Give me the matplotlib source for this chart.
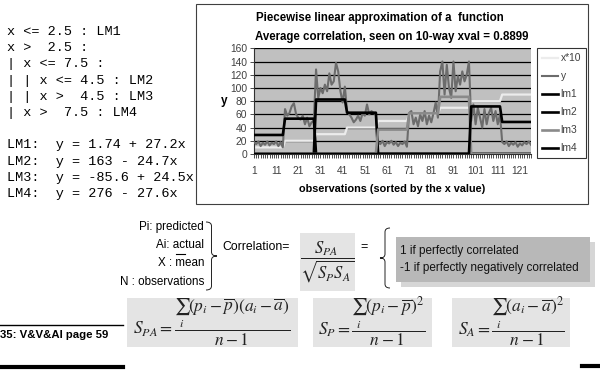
import numpy as np
import matplotlib
matplotlib.use('Agg')
import matplotlib.pyplot as plt
from matplotlib.patches import Rectangle, PathPatch
from matplotlib.path import Path
from matplotlib.lines import Line2D

plt.rcParams['font.family'] = ['Liberation Sans', 'DejaVu Sans']
plt.rcParams['mathtext.fontset'] = 'stix'

W, H = 600, 371

# ---------------- data ----------------
obs_per_group = 14
x10_levels = [10, 20, 30, 40, 50, 60, 70, 80, 90]
lm1_levels = [28.8, 53.5, 0, 0, 0, 0, 0, 0, 0]
lm2_levels = [0, 0, 82.5, 62.5, 0, 0, 0, 0, 0]
lm3_levels = [0, 0, 0, 0, 37, 61.5, 86.5, 0, 0]
lm4_levels = [0, 0, 0, 0, 0, 0, 0, 72, 48.5]
y_values = [
    18, 15, 19, 12, 17, 14, 19, 13, 17, 15, 19, 12, 18, 10,
    68, 58, 62, 72, 77, 60, 55, 52, 58, 45, 55, 42, 48, 50,
    128, 85, 100, 92, 105, 95, 122, 105, 110, 138, 125, 95, 78, 102,
    65, 60, 55, 48, 52, 58, 50, 62, 58, 75, 60, 65, 62, 60,
    18, 15, 20, 12, 18, 16, 20, 14, 18, 12, 17, 15, 19, 11,
    62, 65, 45, 55, 42, 60, 50, 65, 45, 58, 48, 62, 78, 55,
    125, 140, 90, 135, 100, 85, 140, 95, 118, 105, 125, 110, 120, 140,
    50, 75, 45, 70, 55, 40, 68, 45, 62, 70, 50, 65, 45, 60,
    18, 15, 19, 12, 17, 14, 18, 11, 16, 13, 18, 15, 19, 14,
]
xtick_labels = [1, 11, 21, 31, 41, 51, 61, 71, 81, 91, 101, 111, 121]
ytick_values = [0, 20, 40, 60, 80, 100, 120, 140, 160]
legend_labels = ['x*10', 'y', 'lm1', 'lm2', 'lm3', 'lm4']

tree_lines = ["x <= 2.5 : LM1",
              "x >  2.5 :",
              "| x <= 7.5 :",
              "| | x <= 4.5 : LM2",
              "| | x >  4.5 : LM3",
              "| x >  7.5 : LM4",
              "",
              "LM1:  y = 1.74 + 27.2x",
              "LM2:  y = 163 - 24.7x",
              "LM3:  y = -85.6 + 24.5x",
              "LM4:  y = 276 - 27.6x"]

def fx(x):
    return x / W

def fy(y):
    return 1 - y / H

fig = plt.figure(figsize=(6, 3.71), dpi=100)
fig.patch.set_facecolor('white')

# ---------------- left monospace text ----------------
for i, line in enumerate(tree_lines):
    fig.text(fx(7), fy(32 + 16.2 * i), line, family='Liberation Mono',
             fontsize=9.7, va='center', ha='left', color='black')

# ---------------- chart frame ----------------
fig.add_artist(Rectangle((fx(196), fy(204)), fx(588) - fx(196), fy(4) - fy(204),
                         transform=fig.transFigure, fill=False, edgecolor='#404040', lw=0.8))

fig.text(fx(256), fy(18), "Piecewise linear approximation of a  function",
         fontsize=8.3, fontweight='bold', va='center', ha='left')
fig.text(fx(255), fy(37), "Average correlation, seen on 10-way xval = 0.8899",
         fontsize=8.3, fontweight='bold', va='center', ha='left')

ax = fig.add_axes([fx(254), fy(154), fx(531) - fx(254), fy(48.3) - fy(154)])
ax.set_facecolor('#c0c0c0')

n = obs_per_group * len(x10_levels)
obs = np.arange(1, n + 1)
x10 = np.repeat(x10_levels, obs_per_group)
lm1 = np.repeat(lm1_levels, obs_per_group)
lm2 = np.repeat(lm2_levels, obs_per_group)
lm3 = np.repeat(lm3_levels, obs_per_group)
lm4 = np.repeat(lm4_levels, obs_per_group)

for yv in ytick_values:
    ax.axhline(yv, color='black', lw=0.9, zorder=1)

h1, = ax.plot(obs, x10, color='#ececec', lw=1.6, zorder=2)
h2, = ax.plot(obs, y_values, color='#6c6c6c', lw=1.5, zorder=3)
h3, = ax.plot(obs, lm1, color='black', lw=1.9, zorder=4)
h4, = ax.plot(obs, lm2, color='black', lw=1.9, zorder=5)
h5, = ax.plot(obs, lm3, color='#8a8a8a', lw=1.9, zorder=6)
h6, = ax.plot(obs, lm4, color='black', lw=1.9, zorder=7)

ax.set_xlim(1, n)
ax.set_ylim(0, 160)
ax.set_yticks(ytick_values)
ax.set_yticklabels([str(v) for v in ytick_values], fontsize=7.4, color='#404040')
ax.set_xticks(xtick_labels)
ax.set_xticklabels([str(v) for v in xtick_labels], fontsize=7.4, color='#404040')
ax.set_xticks(obs, minor=True)
ax.tick_params(axis='x', which='both', length=3, width=0.6, color='#303030', pad=6)
ax.tick_params(axis='y', length=3, width=0.6, color='#303030', pad=2)
for s in ['top', 'right']:
    ax.spines[s].set_visible(False)
ax.spines['left'].set_color('#303030')
ax.spines['bottom'].set_color('#303030')
ax.spines['left'].set_linewidth(0.8)
ax.spines['bottom'].set_linewidth(0.8)

fig.text(fx(224), fy(101), "y", fontsize=8.5, fontweight='bold', va='center', ha='center')
fig.text(fx(392), fy(189), "observations (sorted by the x value)", fontsize=7.8,
         fontweight='bold', va='center', ha='center')

leg = ax.legend([h1, h2, h3, h4, h5, h6], legend_labels, loc='upper left',
                bbox_to_anchor=(fx(537), fy(48)), bbox_transform=fig.transFigure,
                fontsize=7.4, frameon=True, fancybox=False, edgecolor='black',
                handlelength=1.5, handletextpad=0.3, labelspacing=0.78,
                borderpad=0.5, borderaxespad=0)
leg.get_frame().set_linewidth(0.8)
for t in leg.get_texts():
    t.set_color('#404040')

# ---------------- lower section ----------------
fs = 8.4
fig.text(fx(204), fy(227), "Pi: predicted", fontsize=fs, ha='right', va='center')
fig.text(fx(204), fy(245), "Ai: actual", fontsize=fs, ha='right', va='center')
fig.text(fx(204), fy(263), "X : mean", fontsize=fs, ha='right', va='center')
fig.add_artist(Line2D([fx(176), fx(185)], [fy(254), fy(254)], transform=fig.transFigure,
                      color='black', lw=0.8))
fig.text(fx(204), fy(282), "N : observations", fontsize=fs, ha='right', va='center')


def brace(x0, y0, x1, y1, right=True):
    # vertical curly brace from y0 to y1 (pixel coords), tip at x1 (right) or x0 (left)
    ym = (y0 + y1) / 2
    if right:
        xa, xb, xc = x0, (x0 + x1) / 2, x1
    else:
        xa, xb, xc = x1, (x0 + x1) / 2, x0
    r = 4
    pts = [(xa, y0), (xb, y0), (xb, y0 + r),
           (xb, ym - r), (xb, ym), (xc, ym),
           (xb, ym), (xb, ym + r), (xb, y1 - r),
           (xb, y1), (xa, y1)]
    codes = [Path.MOVETO, Path.CURVE3, Path.CURVE3,
             Path.LINETO, Path.CURVE3, Path.CURVE3,
             Path.CURVE3, Path.CURVE3, Path.LINETO,
             Path.CURVE3, Path.CURVE3]
    verts = [(fx(px), fy(py)) for px, py in pts]
    fig.add_artist(PathPatch(Path(verts, codes), transform=fig.transFigure,
                             fill=False, edgecolor='#222222', lw=0.7))

brace(206, 222, 217, 290, right=True)
fig.text(fx(222), fy(247), "Correlation=", fontsize=8.8, ha='left', va='center')

fig.add_artist(Rectangle((fx(300), fy(291)), fx(355) - fx(300), fy(233) - fy(291),
                         transform=fig.transFigure, facecolor='#e4e4e4', edgecolor='none'))
fig.text(fx(327), fy(262), r'$\dfrac{S_{PA}}{\sqrt{S_P S_A}}$', fontsize=12,
         ha='center', va='center', color='#222222')
fig.text(fx(364), fy(247), "=", fontsize=9, ha='center', va='center')
brace(380, 228, 390, 288, right=False)

fig.add_artist(Rectangle((fx(401), fy(287)), fx(595) - fx(401), fy(242) - fy(287),
                         transform=fig.transFigure, facecolor='#d6d6d6', edgecolor='none'))
fig.add_artist(Rectangle((fx(396), fy(282)), fx(590) - fx(396), fy(237) - fy(282),
                         transform=fig.transFigure, facecolor='#b8b8b8', edgecolor='none'))
fig.text(fx(400), fy(251), "1 if perfectly correlated", fontsize=8.5, ha='left', va='center',
         color='#111111')
fig.text(fx(400), fy(268), "-1 if perfectly negatively correlated", fontsize=8.5, ha='left',
         va='center', color='#111111')

# bottom formulas
for (x0, x1) in [(127, 298), (313, 432), (452, 570)]:
    fig.add_artist(Rectangle((fx(x0), fy(347)), fx(x1) - fx(x0), fy(298) - fy(347),
                             transform=fig.transFigure, facecolor='#e4e4e4', edgecolor='none'))
fig.text(fx(212), fy(322), r'$S_{PA}=\dfrac{\sum_{i}(p_i-\overline{p})(a_i-\overline{a})}{n-1}$',
         fontsize=12.5, ha='center', va='center', color='#222222')
fig.text(fx(372), fy(322), r'$S_{P}=\dfrac{\sum_{i}(p_i-\overline{p})^2}{n-1}$',
         fontsize=12.5, ha='center', va='center', color='#222222')
fig.text(fx(511), fy(322), r'$S_{A}=\dfrac{\sum_{i}(a_i-\overline{a})^2}{n-1}$',
         fontsize=12.5, ha='center', va='center', color='#222222')

fig.text(fx(0), fy(335), "35: V&V&AI page 59", fontsize=8.2, fontweight='bold',
         ha='left', va='center')
fig.add_artist(Line2D([0, fx(123)], [fy(325), fy(325)], transform=fig.transFigure,
                      color='black', lw=1.0))
fig.add_artist(Line2D([0, fx(123)], [fy(367), fy(367)], transform=fig.transFigure,
                      color='black', lw=3.0))
fig.add_artist(Line2D([fx(582), 1], [fy(366), fy(366)], transform=fig.transFigure,
                      color='black', lw=3.0))

fig.savefig('out.png', dpi=100)
